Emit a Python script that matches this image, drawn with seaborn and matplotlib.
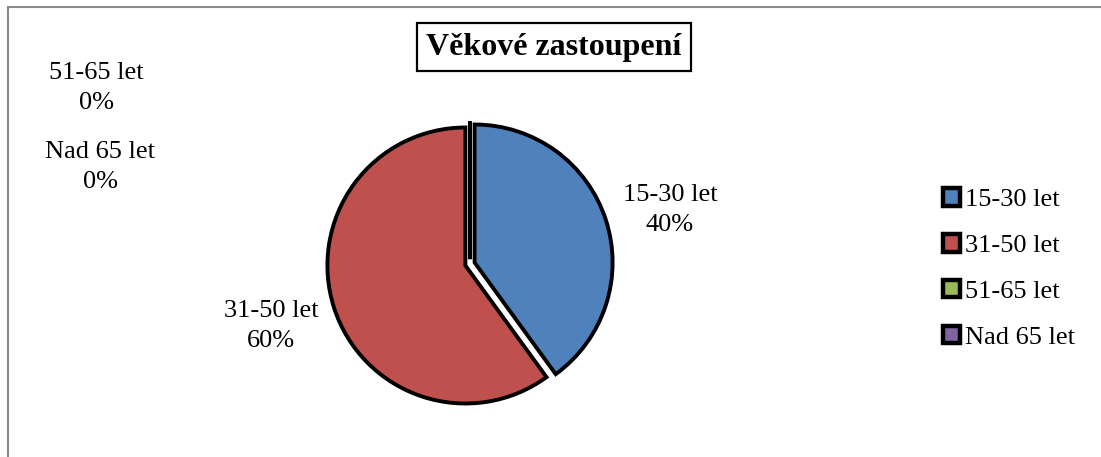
import matplotlib
matplotlib.use("Agg")
import matplotlib.pyplot as plt
import matplotlib.patches as mpatches
import seaborn as sns

# ---- data ----
categories = ["15-30 let", "31-50 let", "51-65 let", "Nad 65 let"]
shares = [40, 60, 0, 0]
colors = ["#4F81BD", "#C0504D", "#9BBB59", "#8064A2"]
title = "Věkové zastoupení"

sns.set_theme(style="white")
plt.rcParams["font.family"] = ["Liberation Serif", "DejaVu Serif"]
plt.rcParams["text.color"] = "black"

W, H = 1101, 457
fig = plt.figure(figsize=(W / 100, H / 100), dpi=100)
fig.patch.set_facecolor("white")

# outer chart-area border (gray)
fig.patches.append(mpatches.Rectangle((8 / W, -0.2), 1.2, 1.2 - 7 / H,
                                      transform=fig.transFigure, fill=False,
                                      edgecolor="#8a8a8a", linewidth=1.5))

# pie axes: centre (470, 264) px, radius 138 px
cx, cy, r = 470, 264, 138
ax = fig.add_axes([(cx - r) / W, (H - cy - r) / H, 2 * r / W, 2 * r / H])
ax.set_axis_off()

wedges, _ = ax.pie(shares, colors=colors, startangle=90, counterclock=False,
                   explode=[0.035] * len(shares), radius=1.0,
                   wedgeprops=dict(edgecolor="black", linewidth=2.8),
                   normalize=True)
for w in wedges:
    w.set_clip_on(False)
ax.set_xlim(-1, 1)
ax.set_ylim(-1, 1)
ax.set_aspect("auto")

# data labels (pixel positions of the label centres)
label_pos = [(670, 210), (271, 326), (96, 88), (100, 167)]
for cat, val, (px, py) in zip(categories, shares, label_pos):
    fig.text(px / W, 1 - py / H, f"{cat}\n{val}%", ha="center", va="center",
             fontsize=19, color="black", linespacing=1.45)

# title with box
fig.text(554 / W, 1 - 47 / H, title, ha="center", va="center", fontsize=23,
         fontweight="bold", color="black",
         bbox=dict(boxstyle="square,pad=0.3", facecolor="white",
                   edgecolor="black", linewidth=1.6))

# legend
leg = fig.legend(wedges, categories, loc="center left",
                 bbox_to_anchor=(943 / W, 1 - 268.5 / H),
                 bbox_transform=fig.transFigure, frameon=False,
                 fontsize=19, handlelength=0.65, handleheight=0.65,
                 handletextpad=0.2, labelspacing=0.86, borderpad=0,
                 borderaxespad=0, labelcolor="black")
for h in leg.legend_handles:
    h.set_linewidth(3.2)

fig.savefig("out.png", dpi=100, facecolor="white")
